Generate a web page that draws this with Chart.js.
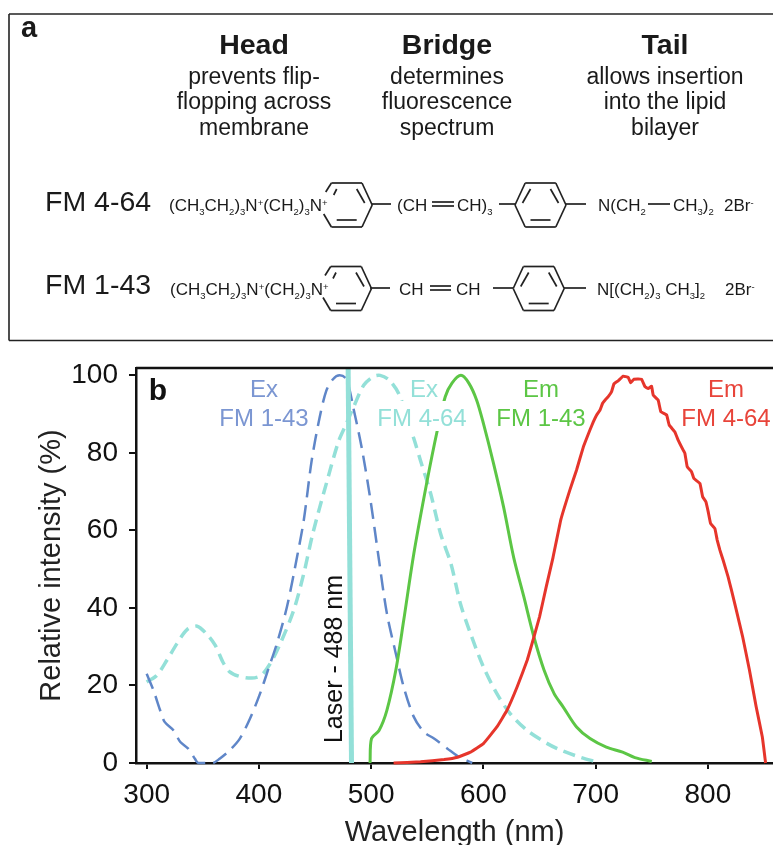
<!DOCTYPE html>
<html>
<head>
<meta charset="utf-8">
<title>FM dyes</title>
<script src="https://cdn.jsdelivr.net/npm/chart.js@4"></script>
<style>
  body { margin: 0; background: #fff; }
  #wrap { position: relative; width: 773px; height: 845px; overflow: hidden; }
  #panelA, #spectra { position: absolute; left: 0; top: 0; }
  #panelA text { font-family: "Liberation Sans", Arial, sans-serif; fill: #1a1a1a; }
</style>
</head>
<body>
<div id="wrap">
  <canvas id="spectra" width="773" height="845"></canvas>
  <svg id="panelA" width="773" height="350" xmlns="http://www.w3.org/2000/svg"></svg>
</div>
<script>
const xTicks = [300, 400, 500, 600, 700, 800];
const yTicks = [0, 20, 40, 60, 80, 100];

const exFm143X = [300,306,312,316,324,330,337,343,346,359,365,374,383,392,401,408,416,425,434,440,447,454,460,466,472,478,484.6,492,499.4,507,514,522,529,538,547,556,568,577,590];
const exFm143Y = [23,18.8,13.6,10.6,8.4,5.4,3.7,1.1,0,0,1.1,3.3,6.3,11.4,17.9,23.9,30.8,40.3,53.2,62.7,78,89,96,99,100,99,91,80.7,67.8,52.3,38.6,28.2,19.6,11.9,8,6.3,3.7,1.8,0];

const exFm464X = [300,309,318,327,336,345,353,361,368,374,382,393.5,402,410,419,431,440,448,460,471,478,484.6,493.5,502,508,516,525,538,544,553,562,571,579.6,588.5,600,612,624,639,657,669,686,700.6];
const exFm464Y = [20.9,22.6,26.5,30.8,34.4,35.3,33.4,30.4,26,23.5,22.4,21.9,22.6,25.6,30.8,39.4,48.9,59.2,72,83,87.6,92,97.5,99.7,100,98.8,95,83.7,78,69.5,59,51.5,41,33.4,24.8,17.9,12.7,8.4,5,3.3,1.5,0.3];

const emFm143X = [499,500.3,507,514,522,529,538,550,559,566,572,580,587,594,600,609,618,627,636,645,654,663,671,683,695,709.5,724,735,750];
const emFm143Y = [0,6.3,8.4,13.6,24,36.8,54,73,85.9,94.5,98,100,98,93.6,87.6,77.3,66,53,42.9,32.5,24,17.9,14.5,9.3,6.3,4.1,2.8,1.4,0.4];

const emFm464X = [520,544,565,577,588.5,600,612,621,630,639,645,650,656,662,669,677,683,689,694.9,697.9,700.9,703.8,706.2,708.3,711.2,714.2,716.3,720.1,724.6,729,731.1,734.1,740.9,743.9,746.8,749.8,751.3,755.7,758.1,763.2,765.5,770.6,773.5,778,779.5,781.6,785.5,787.5,792.9,795.3,798.2,800.3,802.4,806.2,808.3,810.7,813.6,818,821,825,831,837,843,848.5,851.4];
const emFm464Y = [0,0.3,0.9,1.5,2.8,5,9.3,13.6,19.6,26.5,32.5,37.7,45.5,53,62.8,70.4,75.6,81.5,85.9,88,89.8,91,92.8,93.6,94.5,95.8,97.8,98.6,99.8,99.5,98.1,99,99,97.1,96.6,97.2,94.9,93.6,90.6,89.8,87.2,85.4,83.3,80.7,79.9,76.4,75.1,73.4,72.1,68.7,67.4,64.8,61.8,60.5,57.5,54.9,52.3,48,44.6,39.8,32.5,24,14.5,6.7,0];

const laserX = [479.5, 482.5];
const laserY = [101.9, 0];

const toPoints = (xs, ys) => xs.map((x, i) => ({ x: x, y: ys[i] }));

const BLUE = '#5f86c8';
const TEAL = '#93e0d8';
const GREEN = '#5cc645';
const RED = '#e6352b';

const FONT = '"Liberation Sans", Arial, sans-serif';

// series labels, white boxes behind them and the "b" tag
const labelsPlugin = {
  id: 'labels',
  afterDatasetsDraw(chart) {
    const ctx = chart.ctx;
    const area = chart.chartArea;
    ctx.save();
    ctx.strokeStyle = '#111';
    ctx.lineWidth = 2.5;
    ctx.beginPath();
    ctx.moveTo(area.left, area.top);
    ctx.lineTo(area.right, area.top);
    ctx.stroke();

    ctx.fillStyle = '#fff';
    ctx.fillRect(372, 401, 100, 30);

    ctx.textAlign = 'center';
    ctx.textBaseline = 'alphabetic';
    ctx.font = '24px ' + FONT;
    const put = (txt, x, y, color) => {
      ctx.fillStyle = color;
      ctx.fillText(txt, x, y);
    };
    put('Ex', 264, 397, '#7b96d2');
    put('FM 1-43', 264, 426, '#7b96d2');
    put('Ex', 424, 397, TEAL);
    put('FM 4-64', 422, 426, TEAL);
    put('Em', 541, 397, GREEN);
    put('FM 1-43', 541, 426, GREEN);
    put('Em', 726, 397, '#e8443a');
    put('FM 4-64', 726, 426, '#e8443a');

    ctx.font = 'bold 30px ' + FONT;
    ctx.fillStyle = '#111';
    ctx.fillText('b', 158, 400);

    ctx.translate(342, 659);
    ctx.rotate(-Math.PI / 2);
    ctx.font = '25px ' + FONT;
    ctx.fillText('Laser - 488 nm', 0, 0);
    ctx.restore();
  }
};

new Chart(document.getElementById('spectra'), {
  type: 'line',
  data: {
    datasets: [
      { label: 'Laser - 488 nm', data: toPoints(laserX, laserY), borderColor: TEAL, borderWidth: 5 },
      { label: 'Em FM 4-64', data: toPoints(emFm464X, emFm464Y), borderColor: RED, borderWidth: 3, tension: 0.08, clip: 3 },
      { label: 'Em FM 1-43', data: toPoints(emFm143X, emFm143Y), borderColor: GREEN, borderWidth: 3, tension: 0.3, clip: 3 },
      { label: 'Ex FM 1-43', data: toPoints(exFm143X, exFm143Y), borderColor: BLUE, borderWidth: 2.5, borderDash: [16, 8], tension: 0.3, clip: 3 },
      { label: 'Ex FM 4-64', data: toPoints(exFm464X, exFm464Y), borderColor: TEAL, borderWidth: 3.5, borderDash: [12, 7], tension: 0.3, clip: 3 }
    ]
  },
  options: {
    responsive: false,
    animation: false,
    parsing: { xAxisKey: 'x', yAxisKey: 'y' },
    elements: { point: { radius: 0 } },
    layout: { padding: { top: 368 } },
    plugins: { legend: { display: false }, tooltip: { enabled: false } },
    scales: {
      x: {
        type: 'linear',
        min: 290.5,
        max: 858,
        afterBuildTicks: s => { s.ticks = xTicks.map(v => ({ value: v })); },
        afterFit: s => { s.height = 82; },
        grid: { drawOnChartArea: false, tickLength: 6, color: '#111', lineWidth: 2 },
        border: { color: '#111', width: 2.5 },
        ticks: { color: '#111', font: { family: FONT, size: 28 }, padding: 9, maxRotation: 0 },
        title: { display: true, text: 'Wavelength (nm)', color: '#222', font: { family: FONT, size: 29 }, padding: { top: 0, bottom: -5 } }
      },
      y: {
        min: 0,
        max: 101.9,
        afterBuildTicks: s => { s.ticks = yTicks.map(v => ({ value: v })); },
        afterFit: s => { s.width = 136; },
        grid: { drawOnChartArea: false, tickLength: 7, color: '#111', lineWidth: 2 },
        border: { color: '#111', width: 2.5 },
        ticks: { color: '#111', font: { family: FONT, size: 28 }, padding: 11 },
        title: { display: true, text: 'Relative intensity (%)', color: '#222', font: { family: FONT, size: 29 }, padding: { top: 35, bottom: 0 } }
      }
    }
  },
  plugins: [labelsPlugin]
});

// panel a: structures
const svg = document.getElementById('panelA');
const SVGNS = 'http://www.w3.org/2000/svg';

function line(x1, y1, x2, y2, w) {
  const el = document.createElementNS(SVGNS, 'line');
  el.setAttribute('x1', x1); el.setAttribute('y1', y1);
  el.setAttribute('x2', x2); el.setAttribute('y2', y2);
  el.setAttribute('stroke', '#222');
  el.setAttribute('stroke-width', w || 1.7);
  svg.appendChild(el);
}

function label(txt, x, y, size, bold, anchor) {
  const el = document.createElementNS(SVGNS, 'text');
  el.setAttribute('x', x); el.setAttribute('y', y);
  el.setAttribute('font-size', size);
  if (bold) el.setAttribute('font-weight', 'bold');
  if (anchor) el.setAttribute('text-anchor', anchor);
  el.textContent = txt;
  svg.appendChild(el);
}

// _3 is a subscript, ^+ a superscript
function formula(txt, x, y) {
  const el = document.createElementNS(SVGNS, 'text');
  el.setAttribute('x', x); el.setAttribute('y', y);
  el.setAttribute('font-size', 17);
  let shift = 0;
  txt.split(/([_^].)/).forEach(part => {
    if (!part) return;
    const span = document.createElementNS(SVGNS, 'tspan');
    const small = part[0] === '_' || part[0] === '^';
    const offset = part[0] === '_' ? 4 : part[0] === '^' ? -5 : 0;
    span.setAttribute('dy', offset - shift);
    shift = offset;
    if (small) span.setAttribute('font-size', 9.5);
    span.textContent = small ? part[1] : part;
    el.appendChild(span);
  });
  svg.appendChild(el);
}

function ring(cx, cy, nitrogen) {
  const rx = 25.5, tx = 15.3, ry = 22;
  const pts = [[-rx, 0], [-tx, -ry], [tx, -ry], [rx, 0], [tx, ry], [-tx, ry]];
  pts.forEach((p, i) => {
    const q = pts[(i + 1) % 6];
    if (nitrogen && (i === 0 || i === 5)) return;
    line(cx + p[0], cy + p[1], cx + q[0], cy + q[1]);
  });
  line(cx + 10, cy - 16, cx + 18, cy - 2);
  line(cx - 10, cy + 15, cx + 10, cy + 15);
  if (nitrogen) {
    line(cx - tx, cy - ry, cx - 21, cy - 13);
    line(cx - tx, cy + ry, cx - 23, cy + 9);
    line(cx - 10, cy - 16, cx - 13, cy - 10);
  } else {
    line(cx - 10, cy - 16, cx - 18, cy - 2);
  }
}

// box
line(9, 14, 773, 14, 1.6);
line(9, 14, 9, 340.5, 1.6);
line(9, 340.5, 773, 340.5, 1.6);

label('a', 29, 37, 29, true, 'middle');

label('Head', 254, 54, 28.5, true, 'middle');
label('prevents flip-', 254, 84, 23, false, 'middle');
label('flopping across', 254, 109, 23, false, 'middle');
label('membrane', 254, 135, 23, false, 'middle');

label('Bridge', 447, 54, 28.5, true, 'middle');
label('determines', 447, 84, 23, false, 'middle');
label('fluorescence', 447, 109, 23, false, 'middle');
label('spectrum', 447, 135, 23, false, 'middle');

label('Tail', 665, 54, 28.5, true, 'middle');
label('allows insertion', 665, 84, 23, false, 'middle');
label('into the lipid', 665, 109, 23, false, 'middle');
label('bilayer', 665, 135, 23, false, 'middle');

label('FM 4-64', 45, 211, 28.5);
label('FM 1-43', 45, 294, 28.5);

// FM 4-64
formula('(CH_3CH_2)_3N^+(CH_2)_3N^+', 169, 211);
ring(346.7, 205, true);
line(372, 204, 391, 204);
formula('(CH', 397, 211);
line(432, 202, 454, 202);
line(432, 206, 454, 206);
formula('CH)_3', 457, 211);
line(499, 204, 515, 204);
ring(540.5, 205, false);
line(566, 204, 586, 204);
formula('N(CH_2', 598, 211);
line(648, 204, 670, 204);
formula('CH_3)_2', 673, 211);
formula('2Br^-', 724, 211);

// FM 1-43
formula('(CH_3CH_2)_3N^+(CH_2)_3N^+', 170, 295);
ring(346, 288.5, true);
line(370, 288, 390, 288);
formula('CH', 399, 295);
line(430, 286, 451, 286);
line(430, 290, 451, 290);
formula('CH', 456, 295);
line(493, 288, 513, 288);
ring(538.7, 288.5, false);
line(564, 288, 586, 288);
formula('N[(CH_2)_3 CH_3]_2', 597, 295);
formula('2Br^-', 725, 295);
</script>
</body>
</html>
